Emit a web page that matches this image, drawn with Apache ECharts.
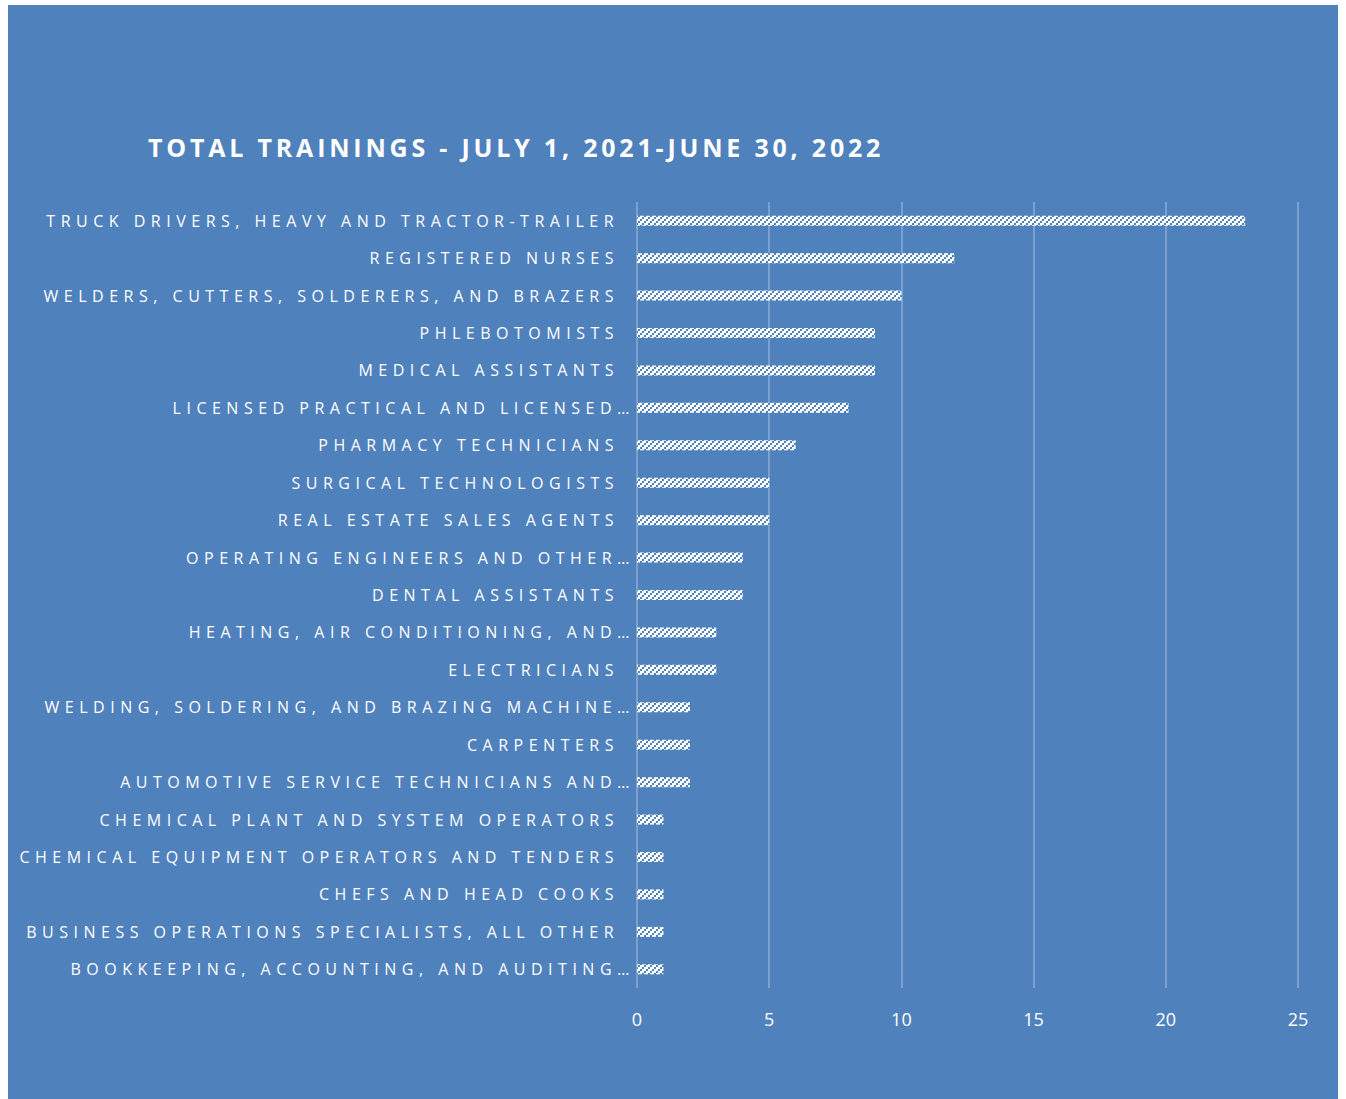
<!DOCTYPE html>
<html><head><meta charset="utf-8">
<script src="https://cdn.jsdelivr.net/npm/echarts@6/dist/echarts.min.js"></script>
<style>
html,body{margin:0;padding:0;background:#fff;width:1346px;height:1099px;overflow:hidden}
#chart{position:absolute;left:8px;top:5px;width:1330px;height:1094px;background:#4f81bd}
#chart text{letter-spacing:5.5px}
#chart text[style*="bold"]{letter-spacing:3.8px}
#chart text[style*="18px"]{letter-spacing:0}
</style></head><body><div id="chart"></div>
<script>
const titleText = 'TOTAL TRAININGS - JULY 1, 2021-JUNE 30, 2022';
const categories = [
  'TRUCK DRIVERS, HEAVY AND TRACTOR-TRAILER',
  'REGISTERED NURSES',
  'WELDERS, CUTTERS, SOLDERERS, AND BRAZERS',
  'PHLEBOTOMISTS',
  'MEDICAL ASSISTANTS',
  'LICENSED PRACTICAL AND LICENSED…',
  'PHARMACY TECHNICIANS',
  'SURGICAL TECHNOLOGISTS',
  'REAL ESTATE SALES AGENTS',
  'OPERATING ENGINEERS AND OTHER…',
  'DENTAL ASSISTANTS',
  'HEATING, AIR CONDITIONING, AND…',
  'ELECTRICIANS',
  'WELDING, SOLDERING, AND BRAZING MACHINE…',
  'CARPENTERS',
  'AUTOMOTIVE SERVICE TECHNICIANS AND…',
  'CHEMICAL PLANT AND SYSTEM OPERATORS',
  'CHEMICAL EQUIPMENT OPERATORS AND TENDERS',
  'CHEFS AND HEAD COOKS',
  'BUSINESS OPERATIONS SPECIALISTS, ALL OTHER',
  'BOOKKEEPING, ACCOUNTING, AND AUDITING…'
];
const trainings = [23, 12, 10, 9, 9, 8, 6, 5, 5, 4, 4, 3, 3, 2, 2, 2, 1, 1, 1, 1, 1];
const xMin = 0, xMax = 25, xStep = 5;

const BLUE = '#4f81bd';
function hatch() {
  const n = 12, c = document.createElement('canvas');
  c.width = c.height = n;
  const ctx = c.getContext('2d');
  const img = ctx.createImageData(n, n);
  for (let y = 0; y < n; y++) for (let x = 0; x < n; x++) {
    const i = (y * n + x) * 4;
    const blue = ((Math.floor(x / 2) + Math.floor(y / 2)) % 3) === 0;
    img.data[i] = blue ? 0x4f : 255;
    img.data[i + 1] = blue ? 0x81 : 255;
    img.data[i + 2] = blue ? 0xbd : 255;
    img.data[i + 3] = 255;
  }
  ctx.putImageData(img, 0, 0);
  return c;
}

// truncated labels (ending in an ellipsis) run slightly past the others, as in the source
const yData = categories.map(c => c.endsWith('…')
  ? { value: c, textStyle: { padding: [0, -16, 0, 0] } }
  : c);

const chart = echarts.init(document.getElementById('chart'), null, { renderer: 'svg' });
chart.setOption({
  backgroundColor: BLUE,
  animation: false,
  title: {
    text: titleText, left: 135, top: 124,
    textStyle: { color: '#fff', fontFamily: 'Open Sans', fontWeight: 'bold', fontSize: 25 }
  },
  grid: { left: 629, right: 40, top: 197, bottom: 111, containLabel: false },
  xAxis: {
    type: 'value', min: xMin, max: xMax, interval: xStep,
    axisLine: { show: false }, axisTick: { show: false },
    splitLine: { show: true, lineStyle: { color: 'rgba(255,255,255,0.35)', width: 1.5 } },
    axisLabel: { color: '#fff', fontFamily: 'Open Sans', fontSize: 18, margin: 22 }
  },
  yAxis: {
    type: 'category', data: yData, inverse: true,
    axisLine: { show: false }, axisTick: { show: false },
    axisLabel: { color: '#fff', fontFamily: 'Open Sans', fontSize: 16, margin: 18 }
  },
  series: [{
    type: 'bar', data: trainings, barWidth: 10,
    itemStyle: { color: { image: hatch(), repeat: 'repeat' } }
  }]
});
</script></body></html>
